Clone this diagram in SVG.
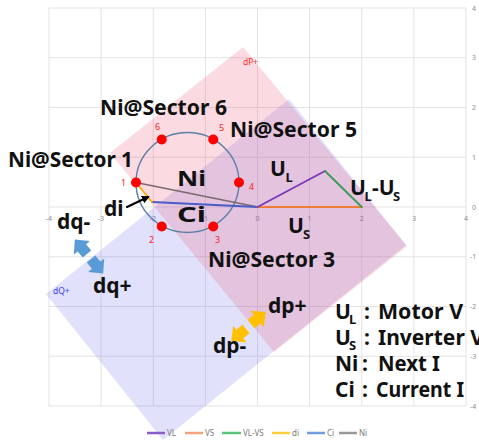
<svg xmlns="http://www.w3.org/2000/svg" width="479" height="443" viewBox="0 0 479 443">
<defs>
<style>
.grid{stroke:#e3e3e3;stroke-width:1;fill:none}
.tick{font-family:"Noto Sans","Liberation Sans",sans-serif;font-size:7px;fill:#8c8c8c}
.big{font-family:"Noto Sans","Open Sans",sans-serif;font-weight:bold;font-size:21px;fill:#111}
.sub{font-family:"Noto Sans","Open Sans",sans-serif;font-weight:bold;font-size:13px;fill:#111}
.num{font-family:"Noto Sans","Liberation Sans",sans-serif;font-size:9px;fill:#ff2020}
.leg{font-family:"Noto Sans","Liberation Sans",sans-serif;font-size:8px;fill:#7a7a7a}
.dot{fill:#ff0000}
</style>
<path id="barrow" d="M0,-5.5 L8,-5.5 L8,-10.5 L19,0 L8,10.5 L8,5.5 L0,5.5 Z"/>
<marker id="ah" markerWidth="8" markerHeight="8" refX="6" refY="4" orient="auto" markerUnits="userSpaceOnUse"><path d="M0,0 L8,4 L0,8 Z" fill="#000"/></marker>
</defs>
<rect width="479" height="443" fill="#fff"/>
<g id="grid">
<path class="grid" d="M49,8V406M101.1,8V406M153.25,8V406M205.4,8V406M257.5,8V406M309.6,8V406M361.75,8V406M413.9,8V406M466,8V406M49,8H466M49,57.75H466M49,107.5H466M49,157.25H466M49,207H466M49,256.75H466M49,306.5H466M49,356.25H466M49,406H466"/>
</g>
<g id="ticks" class="tick">
<text x="49" y="221" text-anchor="middle">-4</text>
<text x="101" y="221" text-anchor="middle">-3</text>
<text x="153" y="221" text-anchor="middle">-2</text>
<text x="205" y="221" text-anchor="middle">-1</text>
<text x="257.5" y="221" text-anchor="middle">0</text>
<text x="309.6" y="221" text-anchor="middle">1</text>
<text x="361.7" y="221" text-anchor="middle">2</text>
<text x="413.9" y="221" text-anchor="middle">3</text>
<text x="466" y="221" text-anchor="middle">4</text>
<text x="472" y="10.5">4</text>
<text x="472" y="60">3</text>
<text x="472" y="110">2</text>
<text x="472" y="160">1</text>
<text x="472" y="209.5">0</text>
<text x="470" y="259">-1</text>
<text x="470" y="309">-2</text>
<text x="470" y="358.5">-3</text>
<text x="470" y="408.5">-4</text>
</g>
<g id="regions">
<polygon id="dQ-region" points="46,294 289,99 406,245 163,440" fill="#6a6af0" fill-opacity="0.2"/>
<polygon id="dP-region" points="243,47 407,246 274,352 110,153" fill="#ee5a78" fill-opacity="0.22"/>
<text x="243" y="65" font-family="Noto Sans,Liberation Sans,sans-serif" font-size="8.5" fill="#ff2a2a">dP+</text>
<text x="53" y="294" font-family="Noto Sans,Liberation Sans,sans-serif" font-size="8.5" fill="#3c3cf0">dQ+</text>
</g>
<g id="connectors" fill="none" stroke-linecap="round">
<ellipse id="circle" cx="187.5" cy="182.5" rx="51.5" ry="50" stroke="#5b7fa6" stroke-width="1.4"/>
<line id="Ni-line" x1="136" y1="182.5" x2="257.5" y2="207" stroke="#7a6a6e" stroke-width="1.5"/>
<line id="Ci-line" x1="152" y1="202" x2="257.5" y2="207" stroke="#4a5cc8" stroke-width="1.8"/>
<line id="di-line" x1="136" y1="182.5" x2="152" y2="202" stroke="#ffb000" stroke-width="1.8"/>
<line id="VS-line" x1="257.5" y1="207" x2="361.75" y2="207" stroke="#ee7d3a" stroke-width="2"/>
<line id="VL-line" x1="257.5" y1="207" x2="325" y2="171" stroke="#7a38b8" stroke-width="1.8"/>
<line id="VLVS-line" x1="325" y1="171" x2="361.75" y2="207" stroke="#3a9a55" stroke-width="1.8"/>
<line id="di-pointer" x1="127" y1="207" x2="148" y2="197" stroke="#000" stroke-width="2" marker-end="url(#ah)"/>
</g>
<g id="sector-dots">
<circle class="dot" cx="136" cy="182.5" r="5"/>
<circle class="dot" cx="161.75" cy="139.5" r="5"/>
<circle class="dot" cx="213.25" cy="139.5" r="5"/>
<circle class="dot" cx="239" cy="182.5" r="5"/>
<circle class="dot" cx="161.75" cy="226.5" r="5"/>
<circle class="dot" cx="213.25" cy="226.5" r="5"/>
<text class="num" x="121" y="186">1</text>
<text class="num" x="155" y="130">6</text>
<text class="num" x="219" y="131">5</text>
<text class="num" x="249" y="190">4</text>
<text class="num" x="149" y="243">2</text>
<text class="num" x="215" y="243">3</text>
</g>
<g id="sector-labels">
<text id="s6" class="big" x="100" y="115" textLength="127" lengthAdjust="spacingAndGlyphs">Ni@Sector 6</text>
<text id="s5" class="big" x="230" y="137" textLength="127" lengthAdjust="spacingAndGlyphs">Ni@Sector 5</text>
<text id="s1" class="big" x="8" y="167" textLength="125" lengthAdjust="spacingAndGlyphs">Ni@Sector 1</text>
<text id="s3" class="big" x="208" y="267" textLength="127" lengthAdjust="spacingAndGlyphs">Ni@Sector 3</text>
<text id="Ni" class="big" x="177" y="186" textLength="29" lengthAdjust="spacingAndGlyphs">Ni</text>
<text id="Ci" class="big" x="177" y="222" textLength="29" lengthAdjust="spacingAndGlyphs">Ci</text>
<text id="di" class="big" x="104" y="216">di</text>
</g>
<g id="vector-labels">
<text class="big" x="270" y="176">U</text><text class="sub" x="285.5" y="182">L</text>
<text class="big" x="350" y="195">U</text><text class="sub" x="364.5" y="201">L</text><text class="big" x="372" y="195">-U</text><text class="sub" x="393" y="201">S</text>
<text class="big" x="288" y="233">U</text><text class="sub" x="303" y="239">S</text>
</g>
<g id="direction-arrows">
<use href="#barrow" fill="#5b9bd5" transform="translate(87,254) rotate(-130)"/>
<use href="#barrow" fill="#5b9bd5" transform="translate(91,259) rotate(50)"/>
<use href="#barrow" fill="#ffc000" transform="translate(251,324) rotate(-39)"/>
<use href="#barrow" fill="#ffc000" transform="translate(246,329) rotate(141)"/>
<text class="big" x="57" y="229">dq-</text>
<text class="big" x="93" y="293">dq+</text>
<text class="big" x="268" y="313">dp+</text>
<text class="big" x="213" y="353">dp-</text>
</g>
<g id="key" class="big" font-size="22">
<text x="335" y="319">U</text><text class="sub" x="349" y="324">L</text><text x="364" y="319">:</text><text x="378" y="319" textLength="85" lengthAdjust="spacingAndGlyphs">Motor V</text>
<text x="335" y="345">U</text><text class="sub" x="349" y="350">S</text><text x="364" y="345">:</text><text x="378" y="345">Inverter V</text>
<text x="335" y="371">Ni</text><text x="362" y="371">:</text><text x="378" y="371" textLength="62" lengthAdjust="spacingAndGlyphs">Next I</text>
<text x="335" y="397">Ci</text><text x="362" y="397">:</text><text x="376" y="397" textLength="88" lengthAdjust="spacingAndGlyphs">Current I</text>
</g>
<g id="legend" stroke-width="2.5">
<line x1="147" y1="433" x2="165" y2="433" stroke="#8a5cc8"/><text class="leg" x="167" y="436">VL</text>
<line x1="185" y1="433" x2="203" y2="433" stroke="#f4a47a"/><text class="leg" x="205" y="436">VS</text>
<line x1="222" y1="433" x2="241" y2="433" stroke="#5cc47e"/><text class="leg" x="243" y="436">VL-VS</text>
<line x1="272" y1="433" x2="290" y2="433" stroke="#ffcf40"/><text class="leg" x="292" y="436">di</text>
<line x1="307" y1="433" x2="325" y2="433" stroke="#6f9be0"/><text class="leg" x="327" y="436">Ci</text>
<line x1="339" y1="433" x2="357" y2="433" stroke="#9a9a9a"/><text class="leg" x="359" y="436">Ni</text>
</g>
</svg>
